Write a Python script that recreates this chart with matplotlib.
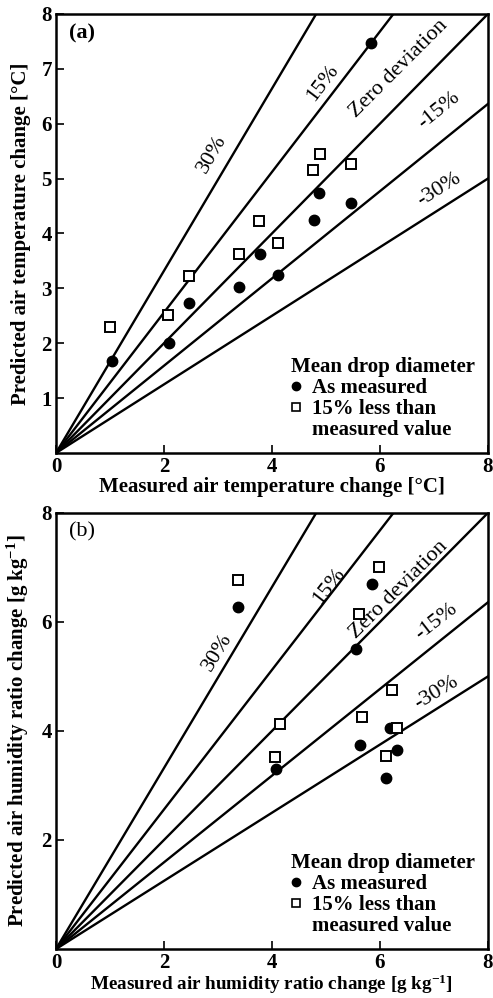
import numpy as np
import matplotlib
matplotlib.use("Agg")
import matplotlib.pyplot as plt
from matplotlib.lines import Line2D

plt.rcParams['font.family'] = ['Liberation Serif', 'DejaVu Serif']
plt.rcParams['font.weight'] = 'bold'
plt.rcParams['axes.labelweight'] = 'bold'
plt.rcParams['mathtext.fontset'] = 'custom'
plt.rcParams['mathtext.rm'] = 'Liberation Serif:bold'
plt.rcParams['mathtext.it'] = 'Liberation Serif:bold'
plt.rcParams['mathtext.bf'] = 'Liberation Serif:bold'

# deviation lines (slope of predicted vs measured)
line_names = ['30%', '15%', 'Zero deviation', '-15%', '-30%']
line_slopes = [1.66, 1.28, 1.0, 0.795, 0.625]

# (a) air temperature change [°C]
temp_meas_x = [1.04, 2.09, 2.46, 3.39, 3.78, 4.11, 4.78, 4.87, 5.47, 5.83]
temp_meas_y = [1.67, 2.00, 2.73, 3.02, 3.63, 3.24, 4.24, 4.73, 4.55, 7.48]
temp_less_x = [1.00, 2.07, 2.46, 3.39, 3.76, 4.11, 4.76, 4.89, 5.46]
temp_less_y = [2.30, 2.52, 3.22, 3.62, 4.22, 3.83, 5.15, 5.45, 5.27]

# (b) air humidity ratio change [g/kg]
hum_meas_x = [3.38, 5.85, 5.55, 6.18, 4.08, 5.64, 6.32, 6.12]
hum_meas_y = [6.28, 6.70, 5.51, 4.05, 3.30, 3.74, 3.65, 3.14]
hum_less_x = [3.38, 5.98, 5.62, 6.22, 4.15, 5.66, 4.06, 6.32, 6.12]
hum_less_y = [6.77, 7.00, 6.15, 4.76, 4.12, 4.25, 3.53, 4.05, 3.55]

# label positions along each line (x, y, rotation)
temp_lab = [(2.9, 5.45, 60), (4.95, 6.75, 53), (6.35, 7.0, 45), (7.1, 6.25, 39), (7.1, 4.8, 32)]
hum_lab = [(3.0, 5.45, 59), (5.05, 6.65, 52), (6.35, 6.6, 45), (7.05, 6.0, 38), (7.05, 4.7, 31)]

fig = plt.figure(figsize=(4.93, 9.98), dpi=100)
ax1 = fig.add_axes([0.1136, 0.5461, 0.876, 0.4399])
ax2 = fig.add_axes([0.1136, 0.0491, 0.876, 0.4369])

fs = 15


def panel(ax, mx, my, lx, ly, labs, tag, tagw, xlab, ylab, yticks, xlab_fs):
    xs = np.array([0, 8.0])
    for s in line_slopes:
        ax.plot(xs, s * xs, color='black', lw=1.7, zorder=2)
    for name, (x, y, r) in zip(line_names, labs):
        ax.text(x, y, name, rotation=r, ha='center', va='center',
                fontsize=16, fontweight='normal', zorder=4)
    ax.plot(mx, my, 'o', color='black', ms=7.5, zorder=5, ls='none')
    ax.plot(lx, ly, 's', mfc='white', mec='black', mew=1.4, ms=6.5, zorder=5, ls='none')
    ax.set_xlim(0, 8)
    ax.set_ylim(0, 8)
    ax.set_xticks([0, 2, 4, 6, 8])
    ax.set_yticks(yticks)
    ax.tick_params(direction='in', length=6, width=1.2, labelsize=fs, pad=3)
    for sp in ax.spines.values():
        sp.set_linewidth(1.8)
    ax.set_xlabel(xlab, fontsize=xlab_fs)
    ax.set_ylabel(ylab, fontsize=fs)
    ax.xaxis.set_label_coords(0.5, -0.054)
    ax.yaxis.set_label_coords(-0.058, 0.5)
    ax.text(0.03, 0.978, tag, transform=ax.transAxes, ha='left', va='top',
            fontsize=fs + 1, fontweight=tagw)
    handles = [Line2D([], [], marker='o', color='black', ls='none', ms=6),
               Line2D([], [], marker='s', mfc='white', mec='black', mew=1.2, ls='none', ms=5.5),
               Line2D([], [], ls='none')]
    leg = ax.legend(handles, ['As measured', '15% less than', 'measured value'],
                    title='Mean drop diameter', loc='lower left',
                    bbox_to_anchor=(0.515, 0.0), frameon=False, fontsize=fs,
                    title_fontsize=fs, handlelength=0.5, handletextpad=0.5,
                    labelspacing=0.05, alignment='left', borderaxespad=0.2)
    leg.get_title().set_fontweight('bold')


panel(ax1, temp_meas_x, temp_meas_y, temp_less_x, temp_less_y, temp_lab, '(a)', 'bold',
      'Measured air temperature change [°C]', 'Predicted air temperature change [°C]',
      [1, 2, 3, 4, 5, 6, 7, 8], fs)
panel(ax2, hum_meas_x, hum_meas_y, hum_less_x, hum_less_y, hum_lab, '(b)', 'normal',
      r'Measured air humidity ratio change [g kg$^{-1}$]',
      r'Predicted air humidity ratio change [g kg$^{-1}$]',
      [2, 4, 6, 8], 13.8)

fig.savefig('out.png', dpi=100)
